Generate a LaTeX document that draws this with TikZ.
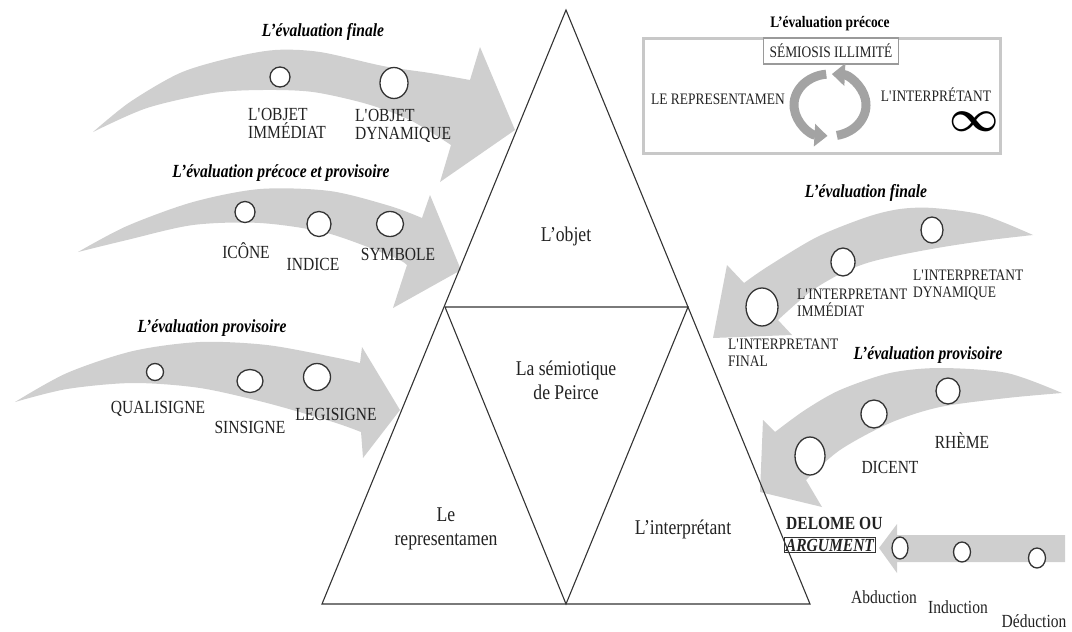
\documentclass[tikz,border=0pt]{standalone}
\usepackage{fontspec}
\setmainfont{Liberation Serif}[FakeStretch=0.84]
\usetikzlibrary{shapes.geometric,arrows.meta}
\definecolor{arrowgray}{HTML}{CFCFCF}
\definecolor{ringgray}{HTML}{A3A3A3}
\definecolor{ink}{HTML}{222222}
\definecolor{rimcol}{HTML}{333333}
\definecolor{framecol}{HTML}{C8C8C8}
\definecolor{framein}{HTML}{9A9A9A}
\newcommand{\sq}{\textquotesingle}
\begin{document}
\begin{tikzpicture}[x=1pt,y=-1pt,
  bigarrow/.style={fill=arrowgray},
  station/.style={ellipse, draw=rimcol, fill=white, line width=1.3pt, inner sep=0pt},
  lab/.style={inner sep=0pt, text=ink, font=\fontsize{18.5}{18}\selectfont, align=left},
  labsmall/.style={inner sep=0pt, text=ink, font=\fontsize{16}{17}\selectfont, align=left},
  heading/.style={inner sep=0pt, text=black, font=\fontsize{18.5}{18}\selectfont\bfseries\itshape},
  trilab/.style={inner sep=0pt, text=ink, font=\fontsize{21}{24}\selectfont, align=center},
  triline/.style={draw=rimcol, line width=1.1pt, line join=miter},
  ring/.style={draw=ringgray, line width=9pt, -{Triangle[length=13pt,width=22pt]}}]
\useasboundingbox (0,0) rectangle (1072,632);

% ---- curved block arrows on the left ----
\fill[bigarrow] plot[smooth] coordinates {(93,132) (130,102) (180,73) (230,58) (275,50) (320,52) (383,66) (430,73) (470,80)}
  -- (480,47) -- (515,130) -- (440,182) -- (451,145)
  -- plot[smooth] coordinates {(451,145) (410,120) (367,104) (313,92) (263,90) (213,93) (147,108) (93,132)} -- cycle;
\fill[bigarrow] plot[smooth] coordinates {(78,252) (127,226) (193,202) (260,189) (330,191) (390,206) (422,218)}
  -- (430,195) -- (461,270) -- (393,308) -- (407,265)
  -- plot[smooth] coordinates {(407,265) (393,257) (327,233) (260,223) (193,225) (127,240) (78,252)} -- cycle;
\fill[bigarrow] plot[smooth] coordinates {(15,402) (67,373) (133,351) (200,342) (267,345) (333,357) (360,363)}
  -- (362,347) -- (400,410) -- (363,458) -- (361,432)
  -- plot[smooth] coordinates {(361,432) (333,422) (267,403) (200,388) (133,383) (67,389) (15,402)} -- cycle;

% ---- curved block arrows on the right ----
\fill[bigarrow] plot[smooth] coordinates {(1033,235) (983,215) (933,208) (900,209) (867,217) (817,237) (767,267) (744,283)}
  -- (727,265) -- (713,338) -- (792,335) -- (778,320)
  -- plot[smooth] coordinates {(778,320) (810,292) (840,274) (867,263) (900,255) (943,247) (990,240) (1033,235)} -- cycle;
\fill[bigarrow] plot[smooth] coordinates {(1062,393) (1007,373) (940,368) (890,373) (840,390) (805,410) (775,432)}
  -- (763,420) -- (760,492) -- (822,507) -- (806,480)
  -- plot[smooth] coordinates {(806,480) (840,450) (890,423) (940,407) (1007,398) (1062,393)} -- cycle;
\fill[bigarrow] (1065,535) -- (897,535) -- (897,524) -- (879,548) -- (897,573) -- (897,562) -- (1065,562) -- cycle;

% ---- the triangle ----
\coordinate (apex) at (566,10);
\coordinate (bl) at (322,604);
\coordinate (br) at (810,604);
\coordinate (ml) at (445,307);
\coordinate (mr) at (688,307);
\coordinate (mb) at (566,604);
\draw[triline] (apex) -- (bl) -- (br) -- cycle;
\draw[triline] (ml) -- (mr) -- (mb) -- cycle;
\node[trilab] (objet) at (566,236) {L’objet};
\node[trilab] (semio) at (566,380) {La sémiotique\\de Peirce};
\node[trilab] (repr) at (446,529) {Le\\representamen};
\node[trilab] (interp) at (683,529) {L’interprétant};

% ---- arrow 1 ----
\node[heading] (h1) at (323,32) {L’évaluation finale};
\node[station, minimum width=20pt, minimum height=20pt] (c11) at (280,77) {};
\node[station, minimum width=28pt, minimum height=31pt] (c12) at (394,83) {};
\node[lab, anchor=west] (t11) at (248,123) {L\sq OBJET\\IMMÉDIAT};
\node[lab, anchor=west] (t12) at (355,126) {L\sq OBJET\\DYNAMIQUE};

% ---- arrow 2 ----
\node[heading] (h2) at (281,173) {L’évaluation précoce et provisoire};
\node[station, minimum width=20pt, minimum height=21pt] (c21) at (245,212) {};
\node[station, minimum width=24pt, minimum height=25pt] (c22) at (319,224) {};
\node[station, minimum width=27pt, minimum height=25pt] (c23) at (390,224) {};
\node[lab] (t21) at (246,251) {ICÔNE};
\node[lab] (t22) at (313,264) {INDICE};
\node[lab] (t23) at (398,254) {SYMBOLE};

% ---- arrow 3 ----
\node[heading] (h3) at (212,328) {L’évaluation provisoire};
\node[station, minimum width=17pt, minimum height=17pt] (c31) at (155,372) {};
\node[station, minimum width=26pt, minimum height=23pt] (c32) at (250,381) {};
\node[station, minimum width=27pt, minimum height=27pt] (c33) at (317,377) {};
\node[lab] (t31) at (158,409) {QUALISIGNE};
\node[lab] (t32) at (250,427) {SINSIGNE};
\node[lab] (t33) at (336,414) {LEGISIGNE};

% ---- early evaluation frame ----
\node[inner sep=0pt, font=\fontsize{16}{16}\selectfont\bfseries] (h4) at (830,24) {L’évaluation précoce};
\draw[draw=framecol, line width=3pt] (643,38) rectangle (1000,153);
\node[labsmall, draw=framein, fill=white, line width=1.5pt, minimum width=135pt, minimum height=26pt, align=center] (semiosis) at (831,51) {SÉMIOSIS ILLIMITÉ};
\node[labsmall] (brep) at (718,99) {LE REPRESENTAMEN};
\node[labsmall] (bint) at (936,95) {L\sq INTERPRÉTANT};
\node[inner sep=0pt] (infty) at (974,122) {\scalebox{4.3}[4.4]{\boldmath$\infty$}};
\begin{scope}[shift={(830,105)}, y=1pt]
  \draw[ring] (96:36 and 31) arc[start angle=96, end angle=266, x radius=36, y radius=31];
  \draw[ring] (281:36 and 31) arc[start angle=281, end angle=447, x radius=36, y radius=31];
\end{scope}

% ---- arrow 4 ----
\node[heading] (h5) at (866,193) {L’évaluation finale};
\node[station, minimum width=22pt, minimum height=26pt] (c41) at (932,230) {};
\node[station, minimum width=24pt, minimum height=28pt] (c42) at (843,262) {};
\node[station, minimum width=32pt, minimum height=38pt] (c43) at (762,307) {};
\node[labsmall, anchor=west] (t41) at (913,285) {L\sq INTERPRETANT\\DYNAMIQUE};
\node[labsmall, anchor=west] (t42) at (797,303) {L\sq INTERPRETANT\\IMMÉDIAT};
\node[labsmall, anchor=west] (t43) at (728,353) {L\sq INTERPRETANT\\FINAL};

% ---- arrow 5 ----
\node[heading] (h6) at (928,355) {L’évaluation provisoire};
\node[station, minimum width=24pt, minimum height=26pt] (c51) at (948,391) {};
\node[station, minimum width=26pt, minimum height=28pt] (c52) at (874,414) {};
\node[station, minimum width=30pt, minimum height=38pt] (c53) at (810,456) {};
\node[lab] (t51) at (962,441) {RHÈME};
\node[lab] (t52) at (890,467) {DICENT};

% ---- arrow 6 ----
\node[lab, anchor=west, font=\fontsize{18.5}{18}\selectfont\bfseries] (delome) at (786,523) {DELOME OU};
\node[lab, anchor=west, draw=rimcol, line width=0.8pt, inner sep=1.5pt, font=\fontsize{18.5}{18}\selectfont\bfseries\itshape] (argument) at (784,545) {ARGUMENT};
\node[station, minimum width=16pt, minimum height=22pt] (c61) at (900,548) {};
\node[station, minimum width=17pt, minimum height=20pt] (c62) at (962,552) {};
\node[station, minimum width=17pt, minimum height=20pt] (c63) at (1037,558) {};
\node[lab] (t61) at (884,597) {Abduction};
\node[lab] (t62) at (958,607) {Induction};
\node[lab] (t63) at (1034,621) {Déduction};
\end{tikzpicture}
\end{document}
